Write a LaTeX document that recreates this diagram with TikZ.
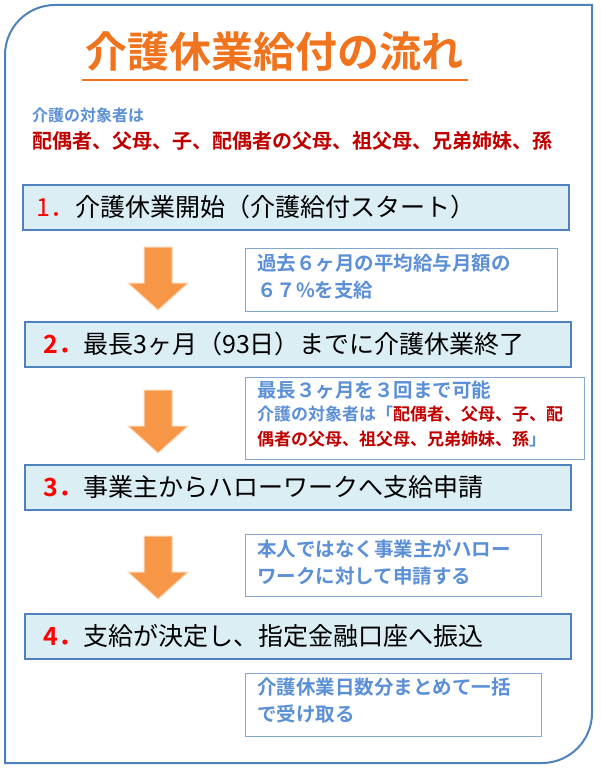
\documentclass[tikz,border=0pt]{standalone}
\usepackage{fontspec}
\setmainfont{Noto Sans CJK JP}
\newfontfamily\jpb{Noto Sans CJK JP}[UprightFont=* Bold]
\definecolor{fb}{HTML}{4F81BD}
\definecolor{fill1}{HTML}{DBEEF4}
\definecolor{org}{HTML}{F79646}
\definecolor{titl}{HTML}{F0731E}
\definecolor{nb}{HTML}{5B8FD6}
\definecolor{dred}{HTML}{C00000}
\begin{document}
\begin{tikzpicture}[x=1pt,y=-1pt,
 stepbox/.style={draw=fb,line width=2.2pt,fill=fill1,minimum width=546pt,minimum height=45pt,anchor=north west,inner sep=0pt},
 steptxt/.style={anchor=west,font=\fontsize{25}{28}\selectfont},
 notebox/.style={draw=fb!70,line width=1pt,fill=white,anchor=north west,inner sep=0pt},
 notetxt/.style={anchor=north west,text=nb,font=\jpb\fontsize{19.5}{27}\selectfont,align=left,inner sep=0pt},
 arr/.style={fill=org,draw=org!40,line width=1pt}]
\useasboundingbox (0,0) rectangle (600,770);
\draw[fb,line width=2pt] (5,55) arc[start angle=180,end angle=270,radius=50] -- (592,5) -- (592,713) arc[start angle=0,end angle=90,radius=50] -- (5,763) -- cycle;
\node[text=titl,font=\jpb\fontsize{42}{46}\selectfont,inner sep=0pt] (title) at (274,52) {介護休業給付の流れ};
\draw[titl,line width=1.5pt] (82,80) -- (468,80);
\node[anchor=west,text=nb,font=\jpb\fontsize{16}{18}\selectfont,inner sep=0pt] (sub) at (32,115) {介護の対象者は};
\node[anchor=west,text=dred,font=\jpb\fontsize{20}{22}\selectfont,inner sep=0pt] (rel) at (32,141) {配偶者、父母、子、配偶者の父母、祖父母、兄弟姉妹、孫};
\node[stepbox] (s1) at (22,184) {};
\node[steptxt] at (33,207) {\textcolor{red}{1．}介護休業開始（介護給付スタート）};
\node[stepbox] (s2) at (24,321) {};
\node[steptxt] at (40,344) {\textcolor{red}{\jpb 2．}最長3ヶ月（93日）までに介護休業終了};
\node[stepbox] (s3) at (24,464) {};
\node[steptxt] at (40,487) {\textcolor{red}{\jpb 3．}事業主からハローワークへ支給申請};
\node[stepbox] (s4) at (24,613) {};
\node[steptxt] at (40,636) {\textcolor{red}{\jpb 4．}支給が決定し、指定金融口座へ振込};
\node[notebox,minimum width=312pt,minimum height=63pt] (nA) at (245,248) {};
\node[notetxt] at (257,254) {過去６ヶ月の平均給与月額の\\６７\%を支給};
\node[notebox,minimum width=339pt,minimum height=82pt] (nB) at (245,377) {};
\node[notetxt] at (257,381) {最長３ヶ月を３回まで可能\\[-4pt]{\fontsize{17}{23}\selectfont 介護の対象者は「\textcolor{dred}{配偶者、父母、子、配}}\\[-2pt]{\fontsize{17}{23}\selectfont\textcolor{dred}{偶者の父母、祖父母、兄弟姉妹、孫}」}};
\node[notebox,minimum width=296pt,minimum height=62pt] (nC) at (245,534) {};
\node[notetxt] at (257,539) {本人ではなく事業主がハロー\\ワークに対して申請する};
\node[notebox,minimum width=296pt,minimum height=63pt] (nD) at (245,673) {};
\node[notetxt] at (257,678) {介護休業日数分まとめて一括\\で受け取る};
\foreach \t/\n in {247/a1,390/a2,536/a3}{
 \draw[arr] (144,\t) -- (172,\t) -- (172,\t+36) -- (188,\t+36) -- (158,\t+63) -- (128,\t+36) -- (144,\t+36) -- cycle;
}
\end{tikzpicture}
\end{document}
